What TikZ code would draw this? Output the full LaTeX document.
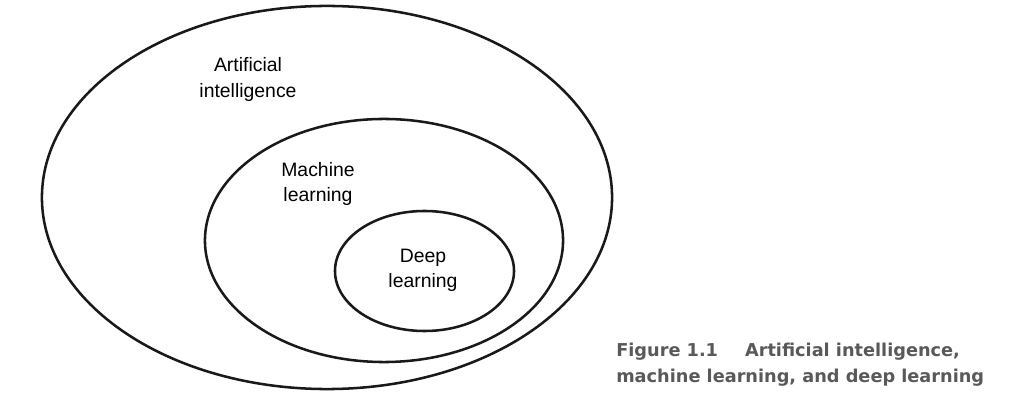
\documentclass[tikz,border=0pt]{standalone}
\usepackage{fontspec}
\setmainfont{Liberation Sans}
\newfontfamily\figcaptionfont{DejaVu Sans}
\colorlet{SetBorder}{black!90}
\colorlet{CaptionText}{black!65}
\usetikzlibrary{calc}

\begin{document}
\begin{tikzpicture}[x=0.025cm, y=-0.025cm,
    setborder/.style={draw=SetBorder, line width=1.8pt},
    setlabel/.style={align=center, font=\fontsize{13.8}{17.8}\selectfont},
    figcaption/.style={anchor=base west, text=CaptionText, inner sep=0pt,
        font=\figcaptionfont\bfseries\fontsize{12.6}{15}\selectfont}]

\useasboundingbox (0, 0) rectangle (1015, 412);

% Centros de cada conjunto.
\coordinate (AI) at (327, 197.5);
\coordinate (ML) at (384, 240.5);
\coordinate (DL) at (424.5, 271);

% Dibujar los conjuntos, del mayor al menor.
\draw[setborder] (AI) ellipse [x radius=7.125cm, y radius=4.7875cm];
\draw[setborder] (ML) ellipse [x radius=4.475cm, y radius=3.0375cm];
\draw[setborder] (DL) ellipse [x radius=2.2375cm, y radius=1.5cm];

% Nombrar cada conjunto.
\node[setlabel] (ailabel) at (248, 79.5) {Artificial\\intelligence};
\node[setlabel] (mllabel) at (318, 184) {Machine\\learning};
\node[setlabel] (dllabel) at (423, 270) {Deep\\learning};

% Pie de figura.
\node[figcaption] (capone) at (616, 357)
    {Figure 1.1\hspace{0.675cm}Artificial intelligence,};
\node[figcaption] (captwo) at (616, 383)
    {machine learning, and deep learning};

\end{tikzpicture}
\end{document}
